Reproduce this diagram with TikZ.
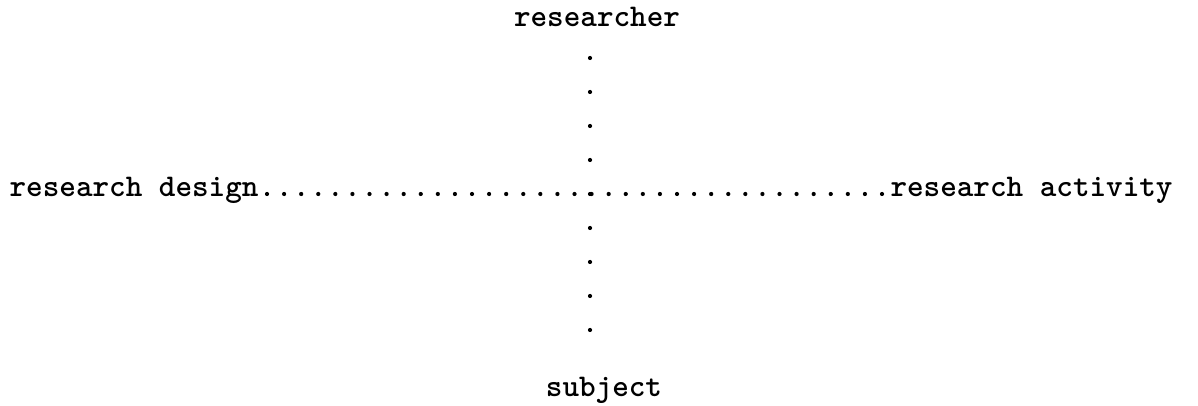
\documentclass[tikz,border=0pt]{standalone}
\usetikzlibrary{calc}
\begin{document}
\begin{tikzpicture}[x=1pt,y=1pt,
  lbl/.style={inner sep=0pt,font=\fontsize{31.6}{36}\selectfont\ttfamily\bfseries},
  dotrow/.style={line width=4.2pt,line cap=round,dash pattern=on 0pt off #1}]
\useasboundingbox (0,0) rectangle (1198,406);
\node[lbl,anchor=base] (researcher) at (597,379) {researcher};
\node[lbl,anchor=base] (subject) at (604,9) {subject};
\node[lbl,anchor=base east] (design) at (258.7,209) {research design};
\node[lbl,anchor=base west] (activity) at (890.3,209) {research activity};
\coordinate (cx) at (590,212);
\draw[dotrow=17.0833pt] ([xshift=8.3pt,yshift=3pt]design.base east) -- ([xshift=-8.0pt,yshift=3pt]activity.base west);
\draw[dotrow=34pt] ([yshift=-31pt]researcher.base -| cx) -- ([yshift=66.5pt]subject.base -| cx);
\end{tikzpicture}
\end{document}
